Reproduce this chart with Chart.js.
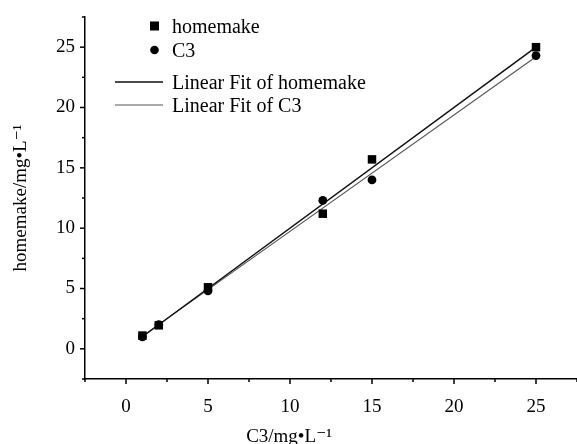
<!DOCTYPE html>
<html>
<head>
<meta charset="utf-8">
<script src="https://cdn.jsdelivr.net/npm/chart.js@4"></script>
<style>
html, body { margin: 0; padding: 0; background: #fff; }
</style>
</head>
<body>
<canvas id="chart" width="577" height="444"></canvas>
<script>
// Datos
const concC3 = [1, 2, 5, 12, 15, 25];
const homemakeValues = [1.1, 1.95, 5.1, 11.2, 15.7, 25.0];
const c3Values = [1.0, 2.0, 4.8, 12.3, 14.0, 24.3];
const fitX = [1, 25];
const fitHomemake = [1.0, 25.0];
const fitC3 = [1.05, 24.2];
const tickLabels = ['0', '5', '10', '15', '20', '25'];
const axisMin = -2.5;
const axisMax = 27.5;
const xTitle = 'C3/mg•L⁻¹';
const yTitle = 'homemake/mg•L⁻¹';

const serif = "'Liberation Serif', 'DejaVu Serif', serif";

const toPoints = (xs, ys) => xs.map((x, i) => ({ x: x, y: ys[i] }));

// Ticks mayores y menores dibujados a mano
const tickPlugin = {
    id: 'axisTicks',
    afterDraw(chart) {
        const ctx = chart.ctx;
        const xs = chart.scales.x;
        const ys = chart.scales.y;
        const area = chart.chartArea;
        ctx.save();
        ctx.strokeStyle = '#000';
        ctx.lineWidth = 1.5;
        for (let v = axisMin; v <= axisMax + 0.001; v += 2.5) {
            const major = tickLabels.includes(String(v));
            const len = major ? 5 : 3;
            const px = xs.getPixelForValue(v);
            ctx.beginPath();
            ctx.moveTo(px, area.bottom);
            ctx.lineTo(px, area.bottom + len);
            ctx.stroke();
            const py = ys.getPixelForValue(v);
            ctx.beginPath();
            ctx.moveTo(area.left, py);
            ctx.lineTo(area.left - len, py);
            ctx.stroke();
        }

        // Titulos de los ejes
        ctx.font = '19px ' + serif;
        ctx.fillStyle = '#000';
        ctx.textAlign = 'center';
        ctx.textBaseline = 'alphabetic';
        ctx.fillText(xTitle, 289, 442);
        ctx.translate(26, (area.top + area.bottom) / 2);
        ctx.rotate(-Math.PI / 2);
        ctx.fillText(yTitle, 0, 0);
        ctx.restore();
    }
};

// Leyenda a medida, arriba a la izquierda
const legendPlugin = {
    id: 'customLegend',
    afterDraw(chart) {
        const ctx = chart.ctx;
        const textX = 172;
        ctx.save();
        ctx.font = '20px ' + serif;
        ctx.fillStyle = '#000';
        ctx.textBaseline = 'middle';
        ctx.textAlign = 'left';
        chart.data.datasets.forEach(ds => {
            const y = ds.legendY;
            if (ds.showLine) {
                ctx.strokeStyle = ds.borderColor;
                ctx.lineWidth = ds.borderWidth;
                ctx.beginPath();
                ctx.moveTo(115, y);
                ctx.lineTo(163, y);
                ctx.stroke();
            } else if (ds.pointStyle === 'rect') {
                ctx.fillRect(150, y - 4.5, 9, 9);
            } else {
                ctx.beginPath();
                ctx.arc(154.5, y, 4.3, 0, Math.PI * 2);
                ctx.fill();
            }
            ctx.fillStyle = '#000';
            ctx.fillText(ds.label, textX, y + 2);
        });
        ctx.restore();
    }
};

const labelFor = v => {
    const s = String(Math.round(v * 10) / 10);
    return tickLabels.includes(s) ? s : '';
};

new Chart(document.getElementById('chart'), {
    type: 'scatter',
    data: {
        datasets: [{
            label: 'homemake',
            data: toPoints(concC3, homemakeValues),
            pointStyle: 'rect',
            pointRadius: 6,
            backgroundColor: '#000',
            borderColor: '#000',
            borderWidth: 0,
            legendY: 26,
            order: 1
        }, {
            label: 'C3',
            data: toPoints(concC3, c3Values),
            pointStyle: 'circle',
            pointRadius: 4.4,
            backgroundColor: '#000',
            borderColor: '#000',
            borderWidth: 0,
            legendY: 50,
            order: 1
        }, {
            label: 'Linear Fit of homemake',
            data: toPoints(fitX, fitHomemake),
            showLine: true,
            pointRadius: 0,
            borderColor: '#111',
            borderWidth: 1.5,
            legendY: 82,
            order: 2
        }, {
            label: 'Linear Fit of C3',
            data: toPoints(fitX, fitC3),
            showLine: true,
            pointRadius: 0,
            borderColor: '#555',
            borderWidth: 1.1,
            legendY: 105,
            order: 2
        }]
    },
    options: {
        responsive: false,
        animation: false,
        layout: { autoPadding: false, padding: { top: 17, right: 0, left: 0, bottom: 0 } },
        plugins: {
            legend: { display: false },
            tooltip: { enabled: false }
        },
        scales: {
            x: {
                type: 'linear',
                min: axisMin,
                max: axisMax,
                afterFit: scale => {
                    scale.height = 65;
                    scale.paddingLeft = 0;
                    scale.paddingRight = 0;
                },
                ticks: {
                    stepSize: 2.5,
                    autoSkip: false,
                    maxRotation: 0,
                    padding: 12,
                    color: '#000',
                    font: { family: serif, size: 19 },
                    callback: labelFor
                },
                grid: { drawOnChartArea: false, tickLength: 5, tickColor: 'rgba(0,0,0,0)' },
                border: { display: true, color: '#000', width: 1.5 },
                title: { display: false }
            },
            y: {
                type: 'linear',
                min: axisMin,
                max: axisMax,
                afterFit: scale => {
                    scale.width = 85;
                    scale.paddingTop = 0;
                    scale.paddingBottom = 0;
                },
                ticks: {
                    stepSize: 2.5,
                    autoSkip: false,
                    padding: 5,
                    color: '#000',
                    font: { family: serif, size: 19 },
                    callback: labelFor
                },
                grid: { drawOnChartArea: false, tickLength: 5, tickColor: 'rgba(0,0,0,0)' },
                border: { display: true, color: '#000', width: 1.5 },
                title: { display: false }
            }
        }
    },
    plugins: [tickPlugin, legendPlugin]
});
</script>
</body>
</html>
